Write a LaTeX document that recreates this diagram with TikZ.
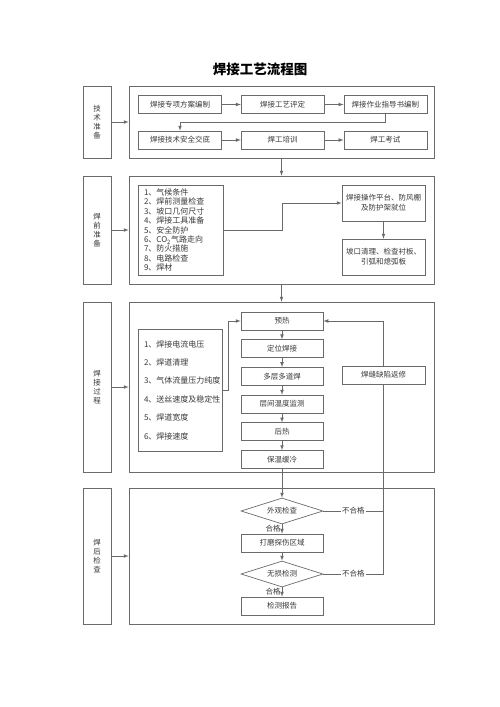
\documentclass[tikz,border=0pt]{standalone}
\usepackage{fontspec}
\newfontfamily\cjk{Noto Sans CJK SC}
\usetikzlibrary{arrows, shapes, positioning}
\definecolor{framegray}{HTML}{6A6A6A}
\definecolor{inkgray}{HTML}{383838}

\begin{document}
\begin{tikzpicture}[x=1pt, y=-1pt, node distance=9pt,
        every node/.style={font=\cjk\fontsize{7.5}{10}\selectfont, text=inkgray},
        box/.style={draw=framegray, line width=0.7pt, minimum width=83pt, minimum height=18pt, inner sep=0pt, align=center},
        side/.style={draw=framegray, line width=0.7pt, minimum width=28pt, inner sep=0pt, align=center, font=\cjk\fontsize{7.5}{8.8}\selectfont},
        frame/.style={draw=framegray, line width=0.7pt, minimum width=305pt, inner sep=0pt},
        listbox/.style={draw=framegray, line width=0.7pt, inner xsep=6pt, inner ysep=0pt, align=left},
        decision/.style={diamond, aspect=3, draw=framegray, line width=0.7pt, minimum width=82pt, minimum height=26pt, inner sep=0pt},
        arrow/.style={-latex, color=framegray, line width=0.7pt},
        line/.style={color=framegray, line width=0.7pt},
        lbl/.style={inner sep=1pt, text=inkgray}]
        \useasboundingbox (0,0) rectangle (500,707);

        \node[font=\cjk\bfseries\fontsize{13.5}{15}\selectfont, text=black] (title) at (260,69) {焊接工艺流程图};

        % 技术准备
        \node[side, minimum height=72pt] (tech) at (97,122) {技\\术\\准\\备};
        \node[frame, minimum height=72pt] (techf) at (281.5,122) {};
        \node[box] (plan) at (180,104.5) {焊接专项方案编制};
        \node[box, right=19pt of plan] (pqr) {焊接工艺评定};
        \node[box, right=19pt of pqr] (wps) {焊接作业指导书编制};
        \node[box] (brief) at (180,140) {焊接技术安全交底};
        \node[box, right=19pt of brief] (train) {焊工培训};
        \node[box, right=19pt of train] (exam) {焊工考试};

        \path[arrow] (tech) edge (techf) (plan) edge (pqr) (pqr) edge (wps);
        \path[arrow] (brief) edge (train) (train) edge (exam);
        \draw[arrow] (wps.south) -- ++(0,8) -| (brief.north);

        % 焊前准备
        \node[side, minimum height=108pt] (pre) at (97,230) {焊\\前\\准\\备};
        \node[frame, minimum height=108pt] (pref) at (281.5,230) {};
        \node[listbox, minimum height=90pt, text width=73pt, font=\cjk\fontsize{8}{9.4}\selectfont] (check) at (180.5,230)
            {1、气候条件\\2、焊前测量检查\\3、坡口几何尺寸\\4、焊接工具准备\\5、安全防护\\6、CO\textsubscript{2}气路走向\\7、防火措施\\8、电路检查\\9、焊材};
        \node[box, minimum height=36pt] (site) at (383.5,203) {焊接操作平台、防风棚\\及防护架就位};
        \node[box, minimum height=36pt] (groove) at (383.5,257) {坡口清理、检查衬板、\\引弧和熄弧板};

        \path[arrow] (techf) edge (pref) (pre) edge (pref) (site) edge (groove);
        \draw[arrow] (check.east) -- ++(59,0) |- (site.west);

        % 焊接过程
        \node[side, minimum height=170pt] (proc) at (97,387) {焊\\接\\过\\程};
        \node[frame, minimum height=170pt] (procf) at (281.5,387) {};
        \node[box, minimum width=82pt] (heat) at (282,321) {预热};
        \node[box, minimum width=82pt, below=of heat] (tack) {定位焊接};
        \node[box, minimum width=82pt, below=of tack] (multi) {多层多道焊};
        \node[box, minimum width=82pt, below=of multi] (inter) {层间温度监测};
        \node[box, minimum width=82pt, below=of inter] (after) {后热};
        \node[box, minimum width=82pt, below=of after] (cool) {保温缓冷};
        \node[listbox, minimum height=122pt, text width=72pt, font=\cjk\fontsize{8}{18.4}\selectfont] (param) at (180,390)
            {1、焊接电流电压\\2、焊道清理\\3、气体流量压力纯度\\4、送丝速度及稳定性\\5、焊道宽度\\6、焊接速度};
        \node[box] (repair) at (383.5,375) {焊缝缺陷返修};

        \path[arrow] (pref) edge (procf) (proc) edge (procf);
        \path[arrow] (heat) edge (tack) (tack) edge (multi) (multi) edge (inter) (inter) edge (after) (after) edge (cool);
        \draw[arrow] (param.east) -- ++(6,0) |- (heat.west);
        \draw[arrow] (repair.north) |- (heat.east);

        % 焊后检查
        \node[side, minimum height=136pt] (insp) at (97,556) {焊\\后\\检\\查};
        \node[frame, minimum height=136pt] (inspf) at (281.5,556) {};
        \node[decision] (visual) at (282,511) {外观检查};
        \node[box, minimum width=82pt] (grind) at (282,543) {打磨探伤区域};
        \node[decision] (ndt) at (282,574) {无损检测};
        \node[box, minimum width=82pt] (report) at (282,606) {检测报告};
        \coordinate (fail1) at (repair.south |- visual.east);
        \coordinate (fail2) at (repair.south |- ndt.east);

        \path[arrow] (insp) edge (inspf) (cool) edge (visual);
        \path[arrow] (visual) edge node[lbl, left] {合格} (grind) (grind) edge (ndt);
        \path[arrow] (ndt) edge node[lbl, left] {合格} (report);
        \draw[line] (visual.east) -- node[lbl, fill=white] {不合格} (fail1);
        \draw[line] (ndt.east) -- node[lbl, fill=white] {不合格} (fail2) -- (repair.south);
    \end{tikzpicture}
\end{document}
